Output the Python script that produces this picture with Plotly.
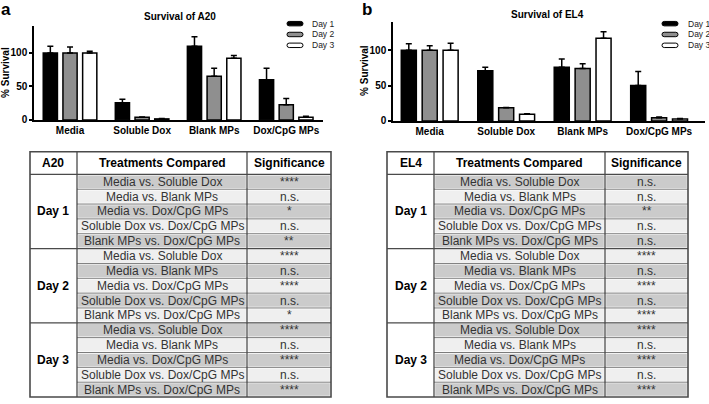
import plotly.graph_objects as go

W, H = 709, 404

# ---------------- data ----------------
categories = ["Media", "Soluble Dox", "Blank MPs", "Dox/CpG MPs"]
days = ["Day 1", "Day 2", "Day 3"]

a20_day1 = [100, 25.5, 110, 60]
a20_day2 = [100, 4, 65, 22.5]
a20_day3 = [100, 1.5, 92, 4]
a20_day1_err = [10, 5.5, 14, 17]
a20_day2_err = [9, 0.5, 12, 9.5]
a20_day3_err = [2.5, 0.5, 4, 1.4]

el4_day1 = [100, 71, 76, 50]
el4_day2 = [100, 18.6, 74, 4.6]
el4_day3 = [100, 9.3, 117, 2.8]
el4_day1_err = [9, 5, 11.5, 20]
el4_day2_err = [6.5, 0.5, 7, 1]
el4_day3_err = [10, 0.7, 9, 0.5]

y_ticks = [0, 50, 100]

comparisons = ["Media vs. Soluble Dox", "Media vs. Blank MPs", "Media vs. Dox/CpG MPs",
               "Soluble Dox vs. Dox/CpG MPs", "Blank MPs vs. Dox/CpG MPs"]
a20_sig_day1 = ["****", "n.s.", "*", "n.s.", "**"]
a20_sig_day2 = ["****", "n.s.", "****", "n.s.", "*"]
a20_sig_day3 = ["****", "n.s.", "****", "n.s.", "****"]
el4_sig_day1 = ["n.s.", "n.s.", "**", "n.s.", "n.s."]
el4_sig_day2 = ["****", "n.s.", "****", "n.s.", "****"]
el4_sig_day3 = ["****", "n.s.", "****", "n.s.", "****"]
table_headers_a = ["A20", "Treatments Compared", "Significance"]
table_headers_b = ["EL4", "Treatments Compared", "Significance"]

FONT = "Liberation Sans, Arial, Helvetica, sans-serif"
fills = ["#000000", "#8f8f8f", "#ffffff"]
CHART_FS = 10
TABLE_FS = 12


def px(x):
    return x / W


def py(y):
    return 1 - y / H


fig = go.Figure()

panels = [
    ("x", "y", [a20_day1, a20_day2, a20_day3], [a20_day1_err, a20_day2_err, a20_day3_err]),
    ("x2", "y2", [el4_day1, el4_day2, el4_day3], [el4_day1_err, el4_day2_err, el4_day3_err]),
]
for xa, ya, vals, errs in panels:
    for i in range(3):
        fig.add_trace(go.Bar(
            x=categories, y=vals[i], name=days[i], xaxis=xa, yaxis=ya,
            marker=dict(color=fills[i], line=dict(color="black", width=1.5)),
            error_y=dict(type="data", symmetric=False, array=errs[i],
                         arrayminus=[0] * len(errs[i]), color="black",
                         thickness=1.5, width=3),
            showlegend=False,
        ))

axis_common = dict(showline=True, linecolor="black", linewidth=1.5, showgrid=False,
                   zeroline=False, fixedrange=True)
xfont = dict(family=FONT, size=CHART_FS, color="black", weight="bold")

fig.update_layout(
    width=W, height=H, margin=dict(l=0, r=0, t=0, b=0),
    paper_bgcolor="white", plot_bgcolor="white",
    barmode="group", bargap=0.18, bargroupgap=0.28,
    showlegend=False,
    xaxis=dict(domain=[px(34), px(323)], range=[-0.5, 3.51], anchor="y", ticks="",
               tickfont=xfont, **axis_common),
    yaxis=dict(domain=[py(121.7), py(26.5)], range=[0, 140], anchor="x", ticks="outside",
               ticklen=3, tickwidth=1.5, tickcolor="black", tickvals=y_ticks,
               tickfont=xfont, **axis_common),
    xaxis2=dict(domain=[px(393), px(705)], range=[-0.48, 3.6], anchor="y2", ticks="",
                tickfont=xfont, **axis_common),
    yaxis2=dict(domain=[py(122.7), py(22.3)], range=[0, 140], anchor="x2", ticks="outside",
                ticklen=3, tickwidth=1.5, tickcolor="black", tickvals=y_ticks,
                tickfont=xfont, **axis_common),
)

annotations = []
shapes = []


def text(x, y, s, size, bold=False, color="black", xanchor="center", angle=0):
    annotations.append(dict(
        x=px(x), y=py(y), xref="paper", yref="paper", text=s, showarrow=False,
        xanchor=xanchor, yanchor="middle", textangle=angle, borderpad=0,
        font=dict(family=FONT, size=size, color=color, weight="bold" if bold else "normal"),
    ))


# panel letters, titles, axis titles
text(6, 9.5, "a", 17, bold=True)
text(367, 9.5, "b", 17, bold=True)
text(179.5, 17, "Survival of A20", CHART_FS, bold=True)
text(547, 15, "Survival of EL4", CHART_FS, bold=True)
text(6, 74, "% Survival", CHART_FS, bold=True, angle=-90)
text(365, 72, "% Survival", CHART_FS, bold=True, angle=-90)


# custom legends
def pill(x0, x1, yc, h, fill):
    y0, y1 = yc - h / 2, yc + h / 2
    r = h / 2
    X = lambda v: px(v)
    Y = lambda v: py(v)
    path = (f"M {X(x0 + r)},{Y(y0)} H {X(x1 - r)} Q {X(x1)},{Y(y0)} {X(x1)},{Y(yc)} "
            f"Q {X(x1)},{Y(y1)} {X(x1 - r)},{Y(y1)} H {X(x0 + r)} "
            f"Q {X(x0)},{Y(y1)} {X(x0)},{Y(yc)} Q {X(x0)},{Y(y0)} {X(x0 + r)},{Y(y0)} Z")
    shapes.append(dict(type="path", path=path, xref="paper", yref="paper",
                       fillcolor=fill, line=dict(color="black", width=1)))


for i, yc in enumerate([24, 35, 46]):
    pill(287, 303, yc, 4.5, fills[i])
    text(311, yc, days[i], 8.5, color="#222", xanchor="left")
    pill(662, 678, yc, 4.5, fills[i])
    text(687, yc, days[i], 8.5, color="#222", xanchor="left")


# tables
def draw_table(cols, headers, sig_lists):
    x0, x1, x2, x3 = cols
    top, hb, bot = 154, 177, 403
    n = 15
    rh = (bot - hb) / n
    rows = []
    for sl in sig_lists:
        for c, s in zip(comparisons, sl):
            rows.append((c, s))
    # fills
    for r in range(n):
        ya = hb + r * rh
        yb = ya + rh
        col = "#cbcbcb" if r % 2 == 0 else "#efefef"
        for (ca, cb) in [(x1, x2), (x2, x3)]:
            shapes.append(dict(type="rect", xref="paper", yref="paper",
                               x0=px(ca + 1.2), x1=px(cb - 1.2), y0=py(ya + 1.2), y1=py(yb - 1.2),
                               fillcolor=col, line=dict(width=0)))
    # thin row separators (cols 2-3)
    for r in range(1, n):
        if r % 5 == 0:
            continue
        yy = hb + r * rh
        shapes.append(dict(type="line", xref="paper", yref="paper",
                           x0=px(x1), x1=px(x3), y0=py(yy), y1=py(yy),
                           line=dict(color="#7a7a7a", width=1)))
    # strong lines
    for yy in [hb, hb + 5 * rh, hb + 10 * rh]:
        shapes.append(dict(type="line", xref="paper", yref="paper",
                           x0=px(x0), x1=px(x3), y0=py(yy), y1=py(yy),
                           line=dict(color="#4a4a4a", width=1.3)))
    for xx in [x1, x2]:
        shapes.append(dict(type="line", xref="paper", yref="paper",
                           x0=px(xx), x1=px(xx), y0=py(top), y1=py(bot),
                           line=dict(color="#4a4a4a", width=1.3)))
    shapes.append(dict(type="rect", xref="paper", yref="paper",
                       x0=px(x0), x1=px(x3), y0=py(top), y1=py(bot),
                       line=dict(color="#4a4a4a", width=1.6), fillcolor="rgba(0,0,0,0)"))
    # header
    hy = (top + hb) / 2
    text((x0 + x1) / 2, hy, headers[0], TABLE_FS, bold=True)
    text((x1 + x2) / 2, hy, headers[1], TABLE_FS, bold=True)
    text((x2 + x3) / 2, hy, headers[2], TABLE_FS, bold=True)
    # day labels
    for d in range(3):
        yc = hb + (d * 5 + 2.5) * rh
        text((x0 + x1) / 2, yc, days[d], TABLE_FS, bold=True)
    # rows
    for r, (c, s) in enumerate(rows):
        yc = hb + (r + 0.5) * rh
        text((x1 + x2) / 2, yc, c, TABLE_FS, color="#333333")
        text((x2 + x3) / 2, yc, s, TABLE_FS, color="#333333")


draw_table((30, 77, 247, 331), table_headers_a, [a20_sig_day1, a20_sig_day2, a20_sig_day3])
draw_table((387, 434, 605, 688), table_headers_b, [el4_sig_day1, el4_sig_day2, el4_sig_day3])

fig.update_layout(annotations=annotations, shapes=shapes)
fig.write_html("out.html", config={"displayModeBar": False},
               post_script="document.body.style.margin='0px';")
